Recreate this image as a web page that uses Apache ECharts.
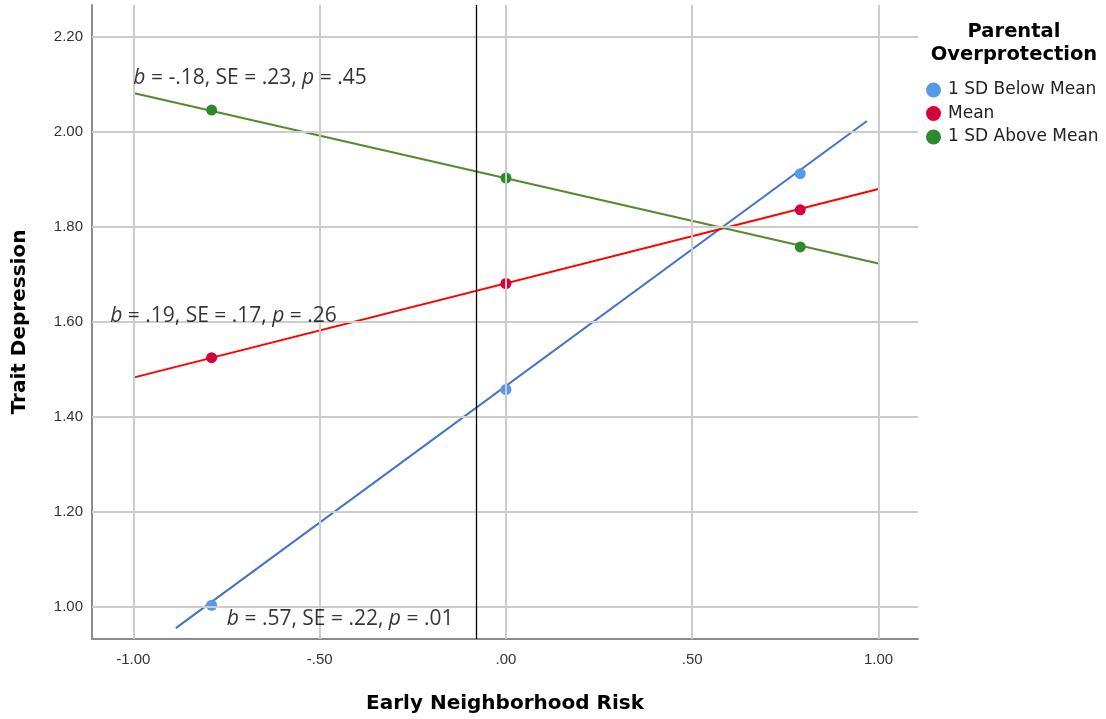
<!DOCTYPE html>
<html><head><meta charset="utf-8">
<script src="https://cdn.jsdelivr.net/npm/echarts@6/dist/echarts.min.js"></script>
<style>html,body{margin:0;padding:0;background:#fff}#c{width:1106px;height:719px}</style>
</head><body><div id="c"></div>
<script>
// ---- data ----
const seriesNames = ['1 SD Below Mean', 'Mean', '1 SD Above Mean'];
const pointX = [-0.79, 0.00, 0.79];
const belowPts = [1.004, 1.458, 1.912];
const meanPts = [1.525, 1.681, 1.836];
const abovePts = [2.046, 1.903, 1.758];
const belowLineX = [-0.886, 0.969];
const belowLineY = [0.956, 2.023];
const meanLineX = [-1.00, 1.00];
const meanLineY = [1.483, 1.880];
const aboveLineX = [-1.00, 1.00];
const aboveLineY = [2.082, 1.723];
const refLineX = -0.08;
const xTicks = [-1.0, -0.5, 0.0, 0.5, 1.0];
const yTicks = [1.0, 1.2, 1.4, 1.6, 1.8, 2.0, 2.2];
const annTexts = ['{i|b} = -.18, SE = .23, {i|p} = .45', '{i|b} = .19, SE = .17, {i|p} = .26', '{i|b} = .57, SE = .22, {i|p} = .01'];
const annX = [-1.00, -1.062, -0.749];
const annY = [2.113, 1.613, 0.975];

// ---- helpers ----
const zip = (xs, ys) => xs.map((x, i) => [x, ys[i]]);
const fmt = v => { let s = Number(v).toFixed(2); return s.replace(/^(-?)0\./, '$1.'); };
const pointColors = ['#5699e6', '#d8003b', '#2b8a2b'];
const lineColors = ['#4472c4', '#ff0000', '#538a2c'];
const gridColor = '#cccccc';
const axisColor = '#8c8c8c';
const boldFont = 'DejaVu Sans, sans-serif';

const gridLines = [].concat(
  xTicks.map(v => ({ xAxis: v })),
  yTicks.map(v => ({ yAxis: v }))
);

const option = {
  animation: false,
  backgroundColor: '#ffffff',
  textStyle: { fontFamily: 'Liberation Sans, Arial, sans-serif' },
  grid: { left: 92, right: 188, top: 5, bottom: 79, containLabel: false },
  title: {
    text: 'Parental\nOverprotection',
    left: 1014, top: 20, textAlign: 'center', padding: 0,
    textStyle: { fontSize: 19.5, fontWeight: 'bold', color: '#000', lineHeight: 23, fontFamily: boldFont }
  },
  legend: {
    data: seriesNames,
    orient: 'vertical', left: 926, top: 80, padding: 0,
    icon: 'circle', itemWidth: 15, itemHeight: 15, itemGap: 3.5,
    textStyle: { fontSize: 17, lineHeight: 20, color: '#222', fontFamily: 'DejaVu Sans, sans-serif', padding: [0, 0, 0, 2] }
  },
  xAxis: {
    type: 'value', min: -1.111, max: 1.106,
    name: 'Early Neighborhood Risk', nameLocation: 'middle', nameGap: 55,
    nameTextStyle: { fontSize: 20, fontWeight: 'bold', color: '#000', fontFamily: boldFont },
    axisLine: { show: true, onZero: false, lineStyle: { color: axisColor, width: 2 } },
    axisTick: { show: false },
    splitLine: { show: false },
    axisLabel: { customValues: xTicks, formatter: fmt, fontSize: 15, color: '#333', margin: 13 }
  },
  yAxis: {
    type: 'value', min: 0.933, max: 2.267,
    name: 'Trait Depression', nameLocation: 'middle', nameGap: 62,
    nameTextStyle: { fontSize: 20, fontWeight: 'bold', color: '#000', fontFamily: boldFont },
    axisLine: { show: true, onZero: false, lineStyle: { color: axisColor, width: 2 } },
    axisTick: { show: false },
    splitLine: { show: false },
    axisLabel: { customValues: yTicks, formatter: fmt, fontSize: 15, color: '#333', margin: 9 }
  },
  series: [
    {
      name: 'grid', type: 'line', data: [], silent: true, z: 1,
      markLine: {
        silent: true, symbol: 'none', animation: false,
        label: { show: false },
        lineStyle: { color: gridColor, width: 2, type: 'solid' },
        data: gridLines
      }
    },
    {
      name: 'ref', type: 'line', data: [], silent: true, z: 2,
      markLine: {
        silent: true, symbol: 'none', animation: false,
        label: { show: false },
        lineStyle: { color: '#000', width: 1.3, type: 'solid' },
        data: [{ xAxis: refLineX }]
      }
    },
    { name: 'fitBelow', type: 'line', data: zip(belowLineX, belowLineY), showSymbol: false, lineStyle: { color: lineColors[0], width: 2 }, z: 3 },
    { name: 'fitMean', type: 'line', data: zip(meanLineX, meanLineY), showSymbol: false, lineStyle: { color: lineColors[1], width: 2 }, z: 3 },
    { name: 'fitAbove', type: 'line', data: zip(aboveLineX, aboveLineY), showSymbol: false, lineStyle: { color: lineColors[2], width: 2 }, z: 3 },
    { name: seriesNames[0], type: 'scatter', data: zip(pointX, belowPts), symbolSize: 11, itemStyle: { color: pointColors[0], opacity: 1 }, z: 4 },
    { name: seriesNames[1], type: 'scatter', data: zip(pointX, meanPts), symbolSize: 11, itemStyle: { color: pointColors[1], opacity: 1 }, z: 4 },
    { name: seriesNames[2], type: 'scatter', data: zip(pointX, abovePts), symbolSize: 11, itemStyle: { color: pointColors[2], opacity: 1 }, z: 4 },
    {
      name: 'annotations', type: 'scatter', symbolSize: 0, z: 5, silent: true,
      data: annTexts.map((t, i) => ({ value: [annX[i], annY[i]], label: { formatter: t } })),
      label: {
        show: true, position: 'right', distance: 0,
        fontSize: 21, color: '#000', fontFamily: 'Open Sans, sans-serif',
        rich: { i: { fontStyle: 'italic', fontSize: 21, color: '#000', fontFamily: 'Open Sans, sans-serif' } }
      }
    }
  ]
};

const chart = echarts.init(document.getElementById('c'), null, { renderer: 'canvas' });
chart.setOption(option);
</script>
</body></html>
